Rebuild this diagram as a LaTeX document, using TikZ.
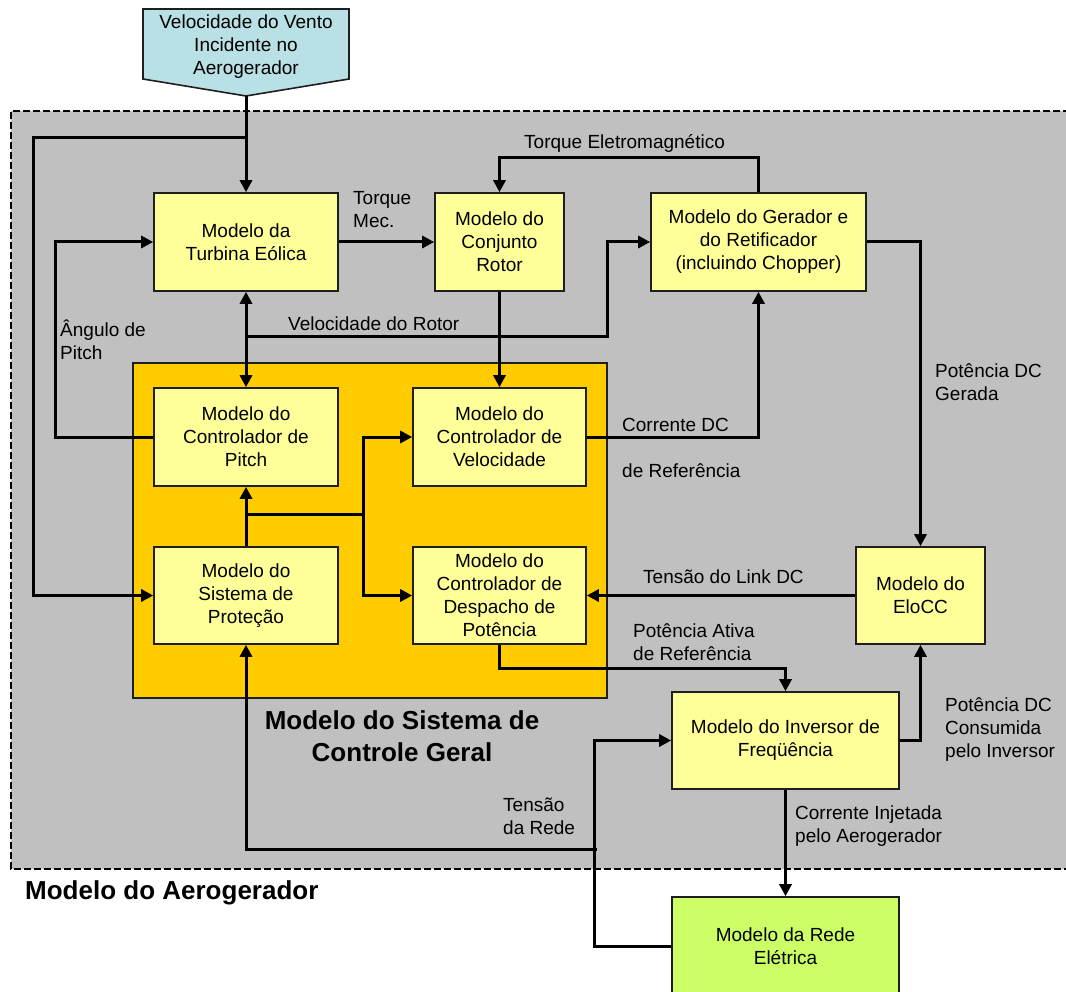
\documentclass[tikz,border=0pt]{standalone}
\usepackage{fontspec}
\setmainfont{Liberation Sans}
\usetikzlibrary{arrows.meta}
\definecolor{bggray}{RGB}{192,192,192}
\definecolor{boxyel}{RGB}{255,255,153}
\definecolor{ctrlorange}{RGB}{255,204,0}
\definecolor{windcyan}{RGB}{185,224,228}
\definecolor{redegreen}{RGB}{204,255,102}
\definecolor{edgedark}{RGB}{30,30,30}
\tikzset{
  blk/.style={draw=edgedark, line width=1.6pt, fill=boxyel, align=center, inner sep=0pt,
    font=\fontsize{19}{23}\selectfont},
  lbl/.style={anchor=west, align=left, inner sep=0pt, font=\fontsize{19}{23}\selectfont},
  ttl/.style={align=center, inner sep=0pt, font=\bfseries\fontsize{26}{32}\selectfont},
  arr/.style={line width=3pt, -{Triangle[length=12pt,width=12pt]}},
  ln/.style={line width=3pt},
}
\begin{document}
\begin{tikzpicture}[x=1pt,y=-1pt]
\useasboundingbox (0,0) rectangle (1066,992);
% outer dashed gray area
\fill[bggray] (11,111) rectangle (1080,869);
\draw[line width=2pt, dash pattern=on 7pt off 3pt] (1080,111) -- (11,111) -- (11,869) -- (1080,869);
% control system area
\draw[fill=ctrlorange, draw=edgedark, line width=1.6pt] (133,363) rectangle (607,698);
% wind box
\draw[fill=windcyan, draw=edgedark, line width=1.6pt] (143,9) -- (349,9) -- (349,79) -- (246,96) -- (143,79) -- cycle;
\node[align=center, inner sep=0pt, font=\fontsize{19}{23}\selectfont] (wind) at (246,47) {Velocidade do Vento\\Incidente no\\Aerogerador};
\coordinate (windtip) at (246,96);
% blocks
\node[blk, minimum width=184pt, minimum height=98pt] (turb) at (246,242) {Modelo da\\Turbina Eólica};
\node[blk, minimum width=129pt, minimum height=98pt] (rotor) at (499.5,242) {Modelo do\\Conjunto\\Rotor};
\node[blk, minimum width=215pt, minimum height=98pt] (ger) at (758.5,242) {Modelo do Gerador e\\do Retificador\\(incluindo Chopper)};
\node[blk, minimum width=184pt, minimum height=98pt] (pitch) at (246,437) {Modelo do\\Controlador de\\Pitch};
\node[blk, minimum width=173pt, minimum height=98pt] (vel) at (499.5,437) {Modelo do\\Controlador de\\Velocidade};
\node[blk, minimum width=184pt, minimum height=97pt] (prot) at (246,595.5) {Modelo do\\Sistema de\\Proteção};
\node[blk, minimum width=173pt, minimum height=97pt] (desp) at (499.5,595.5) {Modelo do\\Controlador de\\Despacho de\\Potência};
\node[blk, minimum width=129pt, minimum height=97pt] (elo) at (920.5,595.5) {Modelo do\\EloCC};
\node[blk, minimum width=227pt, minimum height=97pt] (inv) at (785.5,740.5) {Modelo do Inversor de\\Freqüência};
\node[blk, fill=redegreen, minimum width=227pt, minimum height=98pt] (rede) at (785.5,946) {Modelo da Rede\\Elétrica};
% junction coordinates
\coordinate (j1) at (246,138);
\coordinate (j2) at (246,337);
\coordinate (j3) at (246,514);
\coordinate (j4) at (363,514);
\coordinate (j5) at (597,849);
% connectors
\draw[arr] (windtip) -- (turb.north);
\draw[arr] (j1) -- (33,138) |- (prot.west);
\draw[arr] (pitch.west) -- ++(-98,0) |- (turb.west);
\draw[arr] (turb.east) -- (rotor.west);
\draw[arr] (ger.north) -- ++(0,-35) -| (rotor.north);
\draw[ln, {Triangle[length=12pt,width=12pt]}-{Triangle[length=12pt,width=12pt]}] (turb.south) -- (pitch.north);
\draw[arr] (j2) -- (607,337) |- (ger.west);
\draw[arr] (rotor.south) -- (vel.north);
\draw[arr] (vel.east) -| (ger.south);
\draw[arr] (ger.east) -| (elo.north);
\draw[arr] (prot.north) -- (pitch.south);
\draw[ln] (j3) -- (j4);
\draw[arr] (j4) |- (vel.west);
\draw[arr] (j4) |- (desp.west);
\draw[arr] (elo.west) -- (desp.east);
\draw[arr] (desp.south) -- ++(0,24) -| (inv.north);
\draw[arr] (inv.east) -| (elo.south);
\draw[arr] (inv.south) -- (rede.north);
\draw[arr] (rede.west) -- (594,946) |- (inv.west);
\draw[arr] (j5) -| (prot.south);
% labels
\node[lbl] (lTm) at (353,210) {Torque\\Mec.};
\node[lbl] (lTe) at (524,143) {Torque Eletromagnético};
\node[lbl] (lVr) at (288,324) {Velocidade do Rotor};
\node[lbl] (lAp) at (60,340) {Ângulo de\\Pitch};
\node[lbl] (lCd) at (622,425) {Corrente DC};
\node[lbl] (lRf) at (622,471) {de Referência};
\node[lbl] (lPg) at (935,382) {Potência DC\\Gerada};
\node[lbl] (lTl) at (643,577) {Tensão do Link DC};
\node[lbl] (lPa) at (633,642) {Potência Ativa\\de Referência};
\node[lbl] (lPc) at (945,730) {Potência DC\\Consumida\\pelo Inversor};
\node[lbl] (lCi) at (795,826) {Corrente Injetada\\pelo Aerogerador};
\node[lbl] (lTr) at (503,816) {Tensão\\da Rede};
\node[ttl] (tCtrl) at (402,736) {Modelo do Sistema de\\Controle Geral};
\node[ttl, anchor=west] (tAero) at (25,893) {Modelo do Aerogerador};
\end{tikzpicture}
\end{document}
